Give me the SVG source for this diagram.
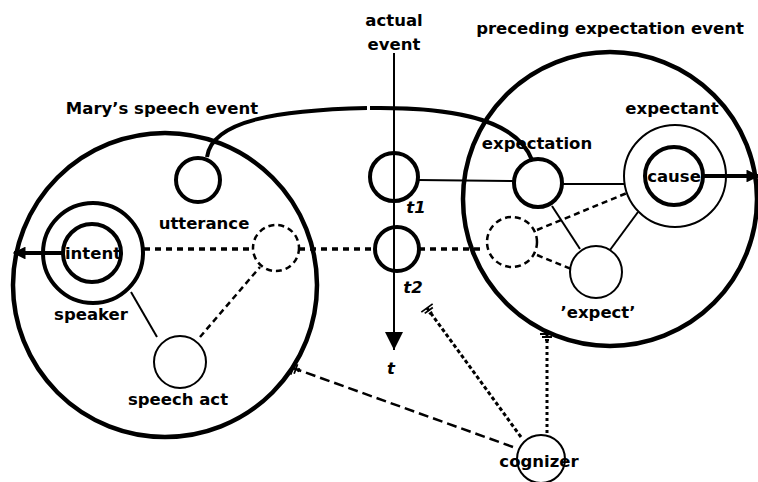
<svg xmlns="http://www.w3.org/2000/svg" width="758" height="482" viewBox="0 0 758 482">
<style>
text{font-family:"DejaVu Sans","Liberation Sans",sans-serif;font-weight:bold;font-size:16.5px;fill:#000;text-anchor:middle}
.it{font-style:italic}
.frame{fill:none;stroke:#000;stroke-width:4.5}
.thick{fill:none;stroke:#000;stroke-width:4}
.thin{fill:none;stroke:#000;stroke-width:2}
.dash{fill:none;stroke:#000;stroke-width:2.5;stroke-dasharray:6 4}
.dot{fill:none;stroke:#000;stroke-width:3.5;stroke-dasharray:6 5}
</style>
<defs>
<marker id="ah" viewBox="0 0 10 10" refX="9" refY="5" markerWidth="3.2" markerHeight="3.2" orient="auto" markerUnits="strokeWidth"><path d="M0,0 L10,5 L0,10 z" fill="#000"/></marker>
<marker id="ahv" viewBox="0 0 10 10" refX="10" refY="5" markerWidth="9" markerHeight="9" orient="auto" markerUnits="strokeWidth"><path d="M0,0 L10,5 L0,10 z" fill="#000"/></marker>
<marker id="bars" viewBox="-8 -8 16 16" refX="0" refY="0" markerWidth="16" markerHeight="16" orient="auto" markerUnits="userSpaceOnUse"><path d="M0,-7 V7 M-3,-5 V5 M-6,-2 V2" stroke="#000" stroke-width="1.8" fill="none"/></marker>
</defs>

<g id="mary-event">
<circle class="frame" cx="165" cy="285" r="152"/>
<text x="162" y="114">Mary’s speech event</text>
</g>
<g id="preceding-event">
<circle class="frame" cx="610" cy="199" r="147"/>
<text x="610" y="34">preceding expectation event</text>
</g>

<g id="connectors">
<path class="thick" d="M207,157 C212,120 280,110 367,108"/>
<path class="thick" d="M370,108 C440,107 515,115 532,160"/>
<line x1="394" y1="53" x2="394" y2="350" stroke="#000" stroke-width="2" marker-end="url(#ahv)"/>
<line x1="62" y1="253" x2="14" y2="253" stroke="#000" stroke-width="4" marker-end="url(#ah)"/>
<line x1="703" y1="176" x2="758" y2="176" stroke="#000" stroke-width="4" marker-end="url(#ah)"/>
<line class="thin" x1="418" y1="180" x2="514" y2="181"/>
<line class="thin" x1="562" y1="184" x2="624" y2="184"/>
<line class="thin" x1="131" y1="292" x2="157" y2="337"/>
<line class="thin" x1="552" y1="206" x2="580" y2="249"/>
<line class="thin" x1="638" y1="212" x2="610" y2="250"/>
<line class="dash" x1="200" y1="337" x2="260" y2="267"/>
<line class="dash" x1="537" y1="230" x2="627" y2="193"/>
<line class="dash" x1="537" y1="255" x2="571" y2="269"/>
<path class="dot" d="M144,249 H253 M299,249 H375 M419,249 H485"/>
<line x1="513" y1="447" x2="293" y2="368" stroke="#000" stroke-width="2.5" stroke-dasharray="10 5" marker-end="url(#bars)"/>
<line x1="521" y1="437" x2="427" y2="308" stroke="#000" stroke-width="3" stroke-dasharray="4 2.5" marker-end="url(#bars)"/>
<line x1="547" y1="433" x2="547" y2="334" stroke="#000" stroke-width="3" stroke-dasharray="3 3" marker-end="url(#bars)"/>
</g>

<g id="utterance">
<circle class="thick" cx="198" cy="180" r="22"/>
<text x="204" y="229">utterance</text>
</g>
<g id="speaker">
<circle class="thick" cx="93" cy="253" r="50"/>
<text x="91" y="320">speaker</text>
</g>
<g id="intent">
<circle class="thick" cx="92" cy="253" r="29"/>
<text x="93" y="259">intent</text>
</g>
<g id="mary-dashed">
<circle class="dash" cx="276" cy="248" r="23"/>
</g>
<g id="speech-act">
<circle class="thin" cx="180" cy="362" r="26"/>
<text x="178" y="405">speech act</text>
</g>
<g id="actual-event">
<text x="394" y="26">actual</text>
<text x="394" y="50">event</text>
<text class="it" x="391" y="374">t</text>
</g>
<g id="t1">
<circle class="thick" cx="394" cy="177" r="24"/>
<text class="it" x="416" y="213">t1</text>
</g>
<g id="t2">
<circle class="thick" cx="397" cy="249" r="22"/>
<text class="it" x="413" y="293">t2</text>
</g>
<g id="expectation">
<circle class="thick" cx="538" cy="183" r="24"/>
<text x="537" y="149">expectation</text>
</g>
<g id="expectant">
<circle class="thin" cx="675" cy="176" r="51"/>
<text x="672" y="114">expectant</text>
</g>
<g id="cause">
<circle class="thick" cx="674" cy="176" r="29"/>
<text x="674" y="182">cause</text>
</g>
<g id="pre-dashed">
<circle class="dash" cx="512" cy="242" r="25"/>
</g>
<g id="expect">
<circle class="thin" cx="596" cy="272" r="26"/>
<text x="598" y="318">’expect’</text>
</g>
<g id="cognizer">
<circle class="thin" cx="541" cy="459" r="24"/>
<text x="539" y="467">cognizer</text>
</g>
</svg>
